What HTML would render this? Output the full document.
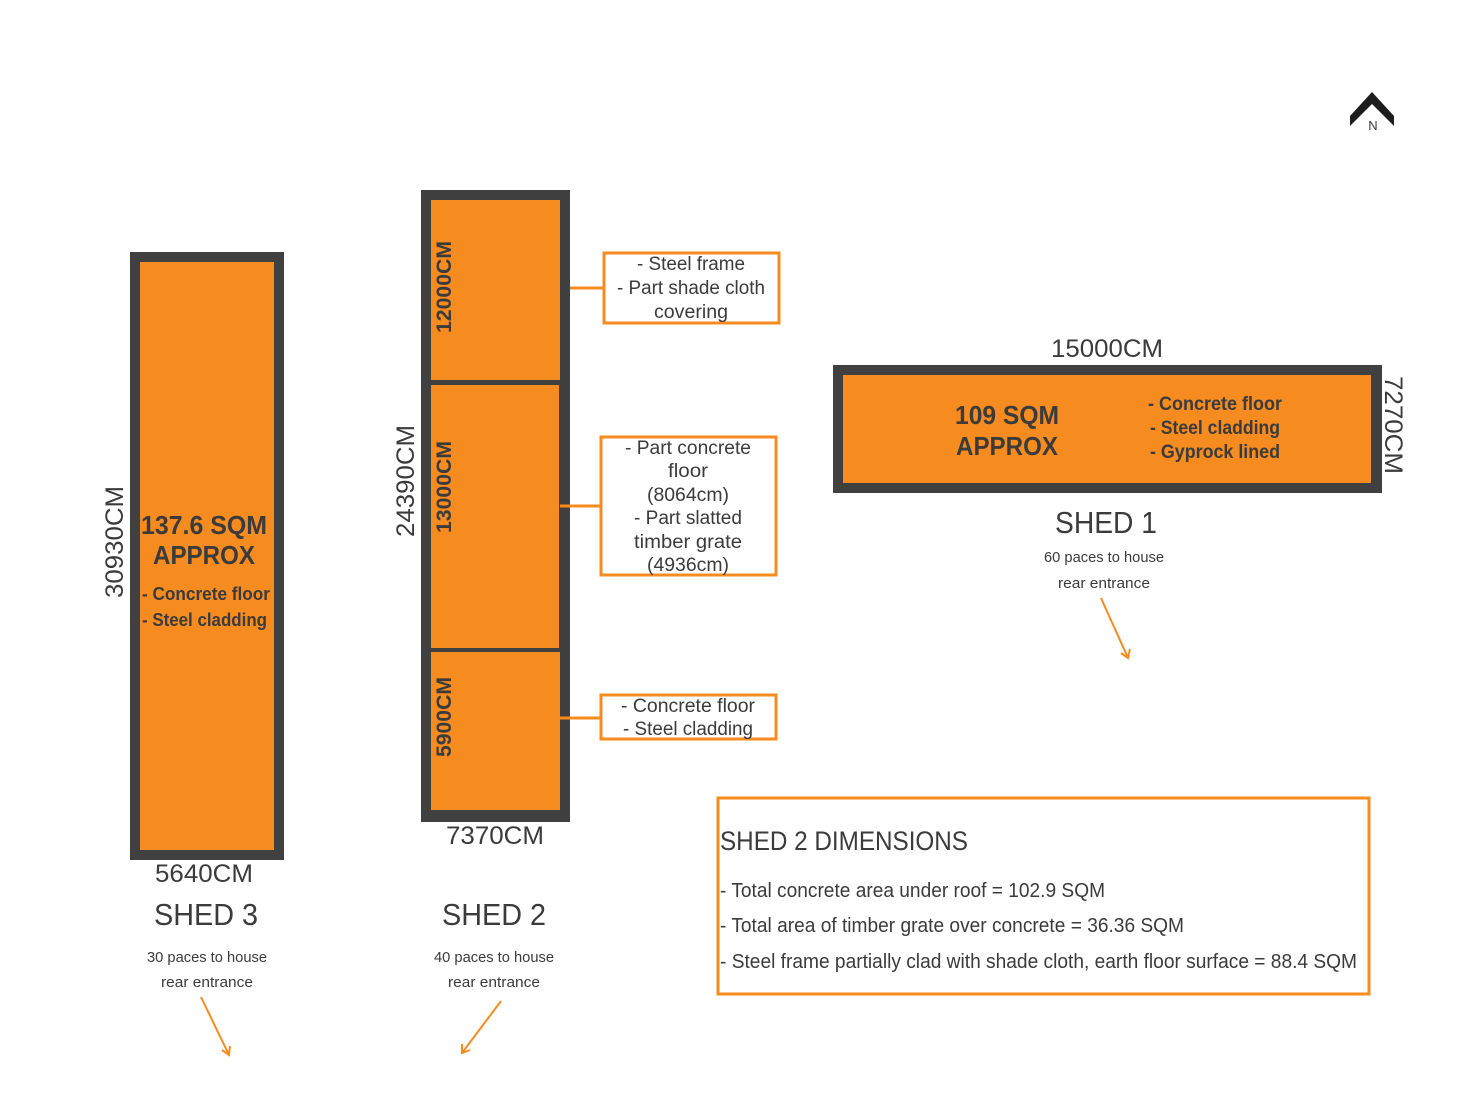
<!DOCTYPE html>
<html><head><meta charset="utf-8"><style>
html,body{margin:0;padding:0;background:#fff;}
svg{display:block;}
text{font-family:"Liberation Sans",sans-serif;fill:#3b3b3b;}
</style></head><body>
<svg width="1472" height="1104" viewBox="0 0 1472 1104" xmlns="http://www.w3.org/2000/svg">
<!-- North arrow -->
<polygon points="1350,116 1372,92 1394,116 1394,126 1372,104 1350,126" fill="#1e1e1e"/>
<text x="1373" y="130" font-size="13" text-anchor="middle" fill="#333">N</text>

<!-- SHED 3 -->
<rect x="130" y="252" width="154" height="608" fill="#404040"/>
<rect x="140" y="262" width="134" height="588" fill="#f68b1f"/>
<text x="204" y="534" font-size="26" font-weight="bold" text-anchor="middle" textLength="126" lengthAdjust="spacingAndGlyphs">137.6 SQM</text>
<text x="204" y="564" font-size="26" font-weight="bold" text-anchor="middle" textLength="102" lengthAdjust="spacingAndGlyphs">APPROX</text>
<text x="142" y="600" font-size="18" font-weight="bold" textLength="128" lengthAdjust="spacingAndGlyphs">- Concrete floor</text>
<text x="142" y="626" font-size="18" font-weight="bold" textLength="125" lengthAdjust="spacingAndGlyphs">- Steel cladding</text>
<text transform="translate(123,542) rotate(-90)" font-size="25" text-anchor="middle" textLength="112" lengthAdjust="spacingAndGlyphs">30930CM</text>
<text x="204" y="882" font-size="25" text-anchor="middle" textLength="98" lengthAdjust="spacingAndGlyphs">5640CM</text>
<text x="206" y="925" font-size="31" text-anchor="middle" textLength="104" lengthAdjust="spacingAndGlyphs">SHED 3</text>
<text x="207" y="962" font-size="15" text-anchor="middle" textLength="120" lengthAdjust="spacingAndGlyphs">30 paces to house</text>
<text x="207" y="987" font-size="15" text-anchor="middle" textLength="92" lengthAdjust="spacingAndGlyphs">rear entrance</text>
<line x1="201" y1="997" x2="229" y2="1055" stroke="#f68b1f" stroke-width="2"/>
<polyline points="222,1050 229,1055 230,1046" fill="none" stroke="#f68b1f" stroke-width="2"/>

<!-- SHED 2 -->
<rect x="421" y="190" width="149" height="632" fill="#404040"/>
<rect x="431" y="200" width="129" height="180" fill="#f68b1f"/>
<rect x="431" y="385" width="128" height="263" fill="#f68b1f"/>
<rect x="431" y="652" width="129" height="158" fill="#f68b1f"/>
<text transform="translate(451,287) rotate(-90)" font-size="21" font-weight="bold" text-anchor="middle" textLength="92" lengthAdjust="spacingAndGlyphs">12000CM</text>
<text transform="translate(451,487) rotate(-90)" font-size="21" font-weight="bold" text-anchor="middle" textLength="92" lengthAdjust="spacingAndGlyphs">13000CM</text>
<text transform="translate(451,717) rotate(-90)" font-size="21" font-weight="bold" text-anchor="middle" textLength="80" lengthAdjust="spacingAndGlyphs">5900CM</text>
<text transform="translate(414,481) rotate(-90)" font-size="25" text-anchor="middle" textLength="112" lengthAdjust="spacingAndGlyphs">24390CM</text>
<text x="495" y="844" font-size="25" text-anchor="middle" textLength="98" lengthAdjust="spacingAndGlyphs">7370CM</text>
<text x="494" y="925" font-size="31" text-anchor="middle" textLength="104" lengthAdjust="spacingAndGlyphs">SHED 2</text>
<text x="494" y="962" font-size="15" text-anchor="middle" textLength="120" lengthAdjust="spacingAndGlyphs">40 paces to house</text>
<text x="494" y="987" font-size="15" text-anchor="middle" textLength="92" lengthAdjust="spacingAndGlyphs">rear entrance</text>
<line x1="501" y1="1001" x2="462" y2="1053" stroke="#f68b1f" stroke-width="2"/>
<polyline points="462,1044 462,1053 470,1050" fill="none" stroke="#f68b1f" stroke-width="2"/>

<!-- callouts -->
<g fill="none" stroke="#f68b1f" stroke-width="3">
<line x1="570" y1="288" x2="604" y2="288"/>
<rect x="604" y="253" width="175" height="70" fill="#fff"/>
<line x1="560" y1="506" x2="601" y2="506"/>
<rect x="601" y="437" width="175" height="138" fill="#fff"/>
<line x1="560" y1="718" x2="601" y2="718"/>
<rect x="601" y="695" width="175" height="44" fill="#fff"/>
</g>
<g font-size="19" text-anchor="middle">
<text x="691" y="270" textLength="108" lengthAdjust="spacingAndGlyphs">- Steel frame</text>
<text x="691" y="294" textLength="148" lengthAdjust="spacingAndGlyphs">- Part shade cloth</text>
<text x="691" y="318" textLength="74" lengthAdjust="spacingAndGlyphs">covering</text>
<text x="688" y="454" textLength="126" lengthAdjust="spacingAndGlyphs">- Part concrete</text>
<text x="688" y="477" textLength="40" lengthAdjust="spacingAndGlyphs">floor</text>
<text x="688" y="501" textLength="82" lengthAdjust="spacingAndGlyphs">(8064cm)</text>
<text x="688" y="524" textLength="108" lengthAdjust="spacingAndGlyphs">- Part slatted</text>
<text x="688" y="548" textLength="108" lengthAdjust="spacingAndGlyphs">timber grate</text>
<text x="688" y="571" textLength="82" lengthAdjust="spacingAndGlyphs">(4936cm)</text>
<text x="688" y="712" textLength="134" lengthAdjust="spacingAndGlyphs">- Concrete floor</text>
<text x="688" y="735" textLength="130" lengthAdjust="spacingAndGlyphs">- Steel cladding</text>
</g>

<!-- SHED 1 -->
<rect x="833" y="365" width="549" height="128" fill="#404040"/>
<rect x="843" y="375" width="528" height="108" fill="#f68b1f"/>
<text x="1107" y="357" font-size="25" text-anchor="middle" textLength="112" lengthAdjust="spacingAndGlyphs">15000CM</text>
<text transform="translate(1385,425) rotate(90)" font-size="25" text-anchor="middle" textLength="98" lengthAdjust="spacingAndGlyphs">7270CM</text>
<text x="1007" y="424" font-size="26" font-weight="bold" text-anchor="middle" textLength="104" lengthAdjust="spacingAndGlyphs">109 SQM</text>
<text x="1007" y="455" font-size="26" font-weight="bold" text-anchor="middle" textLength="102" lengthAdjust="spacingAndGlyphs">APPROX</text>
<text x="1215" y="410" font-size="19" font-weight="bold" text-anchor="middle" textLength="134" lengthAdjust="spacingAndGlyphs">- Concrete floor</text>
<text x="1215" y="434" font-size="19" font-weight="bold" text-anchor="middle" textLength="130" lengthAdjust="spacingAndGlyphs">- Steel cladding</text>
<text x="1215" y="458" font-size="19" font-weight="bold" text-anchor="middle" textLength="130" lengthAdjust="spacingAndGlyphs">- Gyprock lined</text>
<text x="1106" y="533" font-size="31" text-anchor="middle" textLength="102" lengthAdjust="spacingAndGlyphs">SHED 1</text>
<text x="1104" y="562" font-size="15" text-anchor="middle" textLength="120" lengthAdjust="spacingAndGlyphs">60 paces to house</text>
<text x="1104" y="588" font-size="15" text-anchor="middle" textLength="92" lengthAdjust="spacingAndGlyphs">rear entrance</text>
<line x1="1101" y1="598" x2="1128" y2="658" stroke="#f68b1f" stroke-width="2"/>
<polyline points="1121,653 1128,658 1130,649" fill="none" stroke="#f68b1f" stroke-width="2"/>

<!-- dimensions box -->
<rect x="718" y="798" width="651" height="196" fill="none" stroke="#f68b1f" stroke-width="3"/>
<text x="720" y="850" font-size="27" textLength="248" lengthAdjust="spacingAndGlyphs">SHED 2 DIMENSIONS</text>
<text x="720" y="897" font-size="20" textLength="385" lengthAdjust="spacingAndGlyphs">- Total concrete area under roof = 102.9 SQM</text>
<text x="720" y="932" font-size="20" textLength="464" lengthAdjust="spacingAndGlyphs">- Total area of timber grate over concrete = 36.36 SQM</text>
<text x="720" y="968" font-size="20" textLength="637" lengthAdjust="spacingAndGlyphs">- Steel frame partially clad with shade cloth, earth floor surface = 88.4 SQM</text>
</svg>
</body></html>
